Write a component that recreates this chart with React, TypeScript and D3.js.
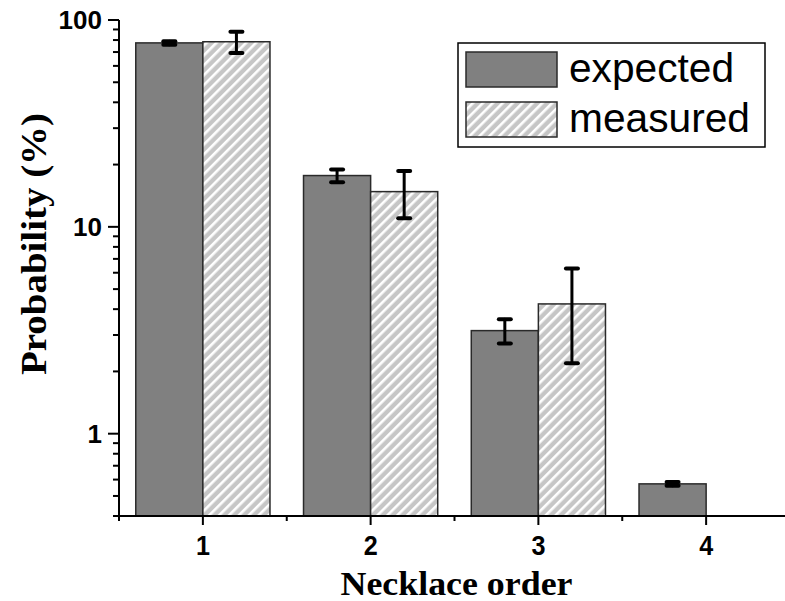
import React from "react";
import * as d3 from "d3";

// Necklace order categories and probabilities (%)
const categories = [1, 2, 3, 4];
const expected = [77.5, 17.7, 3.15, 0.572];
const expectedErr = [1.5, 1.25, 0.42, 0.012];
const measured: (number | null)[] = [78.5, 14.8, 4.24, null];
const measuredErr: (number | null)[] = [9.3, 3.8, 2.05, null];
const yTicks = [1, 10, 100];
const seriesNames = ["expected", "measured"];

const W = 785;
const H = 601;
const left = 119;
const top = 20;
const bottom = 516;
const right = 790;

export default function App() {
  const x = d3.scaleLinear().domain([0.5, 4.5]).range([left, right]);
  const y = d3.scaleLog().domain([0.4, 100]).range([bottom, top]);
  const barW = x(1.4) - x(1);

  const minorY: number[] = [];
  for (const dec of [0.1, 1, 10]) {
    for (let k = 2; k <= 9; k++) {
      const v = dec * k;
      if (v >= 0.4 && v < 100 && !yTicks.includes(v)) minorY.push(v);
    }
  }
  const halfTicks = [0.5, 1.5, 2.5, 3.5, 4.5];

  const errBar = (cx: number, v: number, e: number, key: string) => {
    const y1 = y(v + e);
    const y2 = y(Math.max(v - e, 0.0001));
    const cap = 6;
    return (
      <g key={key} stroke="#000" strokeLinecap="round">
        <line x1={cx} x2={cx} y1={y1} y2={y2} strokeWidth={3} />
        <line x1={cx - cap} x2={cx + cap} y1={y1} y2={y1} strokeWidth={4} />
        <line x1={cx - cap} x2={cx + cap} y1={y2} y2={y2} strokeWidth={4} />
      </g>
    );
  };

  const P = 7;

  return (
    <svg
      width={W}
      height={H}
      style={{ position: "absolute", left: 0, top: 0, background: "#fff" }}
    >
      <defs>
        <pattern
          id="hatch"
          patternUnits="userSpaceOnUse"
          width={P}
          height={P}
          patternTransform="rotate(45)"
        >
          <rect width={P} height={P} fill="#c6c6c6" />
          <rect width={2.6} height={P} fill="#ffffff" />
        </pattern>
      </defs>

      {/* bars */}
      {categories.map((c, i) => (
        <g key={`b${c}`}>
          <rect
            x={x(c) - barW}
            y={y(expected[i])}
            width={barW}
            height={bottom - y(expected[i])}
            fill="#808080"
            stroke="#2a2a2a"
            strokeWidth={1.5}
          />
          {measured[i] != null && (
            <rect
              x={x(c)}
              y={y(measured[i] as number)}
              width={barW}
              height={bottom - y(measured[i] as number)}
              fill="url(#hatch)"
              stroke="#2a2a2a"
              strokeWidth={1.5}
            />
          )}
        </g>
      ))}

      {/* error bars */}
      {categories.map((c, i) => (
        <g key={`e${c}`}>
          {errBar(x(c) - barW / 2, expected[i], expectedErr[i], `ee${c}`)}
          {measured[i] != null &&
            errBar(
              x(c) + barW / 2,
              measured[i] as number,
              measuredErr[i] as number,
              `em${c}`
            )}
        </g>
      ))}

      {/* y axis */}
      <line x1={left} x2={left} y1={top} y2={bottom} stroke="#000" strokeWidth={2} />
      {yTicks.map((t) => (
        <g key={`yt${t}`}>
          <line x1={left - 11} x2={left} y1={y(t)} y2={y(t)} stroke="#000" strokeWidth={2} />
          <text
            x={left - 17}
            y={y(t)}
            dy="0.36em"
            textAnchor="end"
            fontFamily="Liberation Sans, Arial, sans-serif"
            fontWeight="bold"
            fontSize={26}
          >
            {t}
          </text>
        </g>
      ))}
      {minorY.map((t) => (
        <line
          key={`ym${t}`}
          x1={left - 6}
          x2={left}
          y1={y(t)}
          y2={y(t)}
          stroke="#000"
          strokeWidth={2}
        />
      ))}

      {/* x axis */}
      <line x1={left - 1} x2={right} y1={bottom} y2={bottom} stroke="#000" strokeWidth={2} />
      {categories.map((c) => (
        <g key={`xt${c}`}>
          <line x1={x(c)} x2={x(c)} y1={bottom} y2={bottom + 9} stroke="#000" strokeWidth={2} />
          <text
            x={x(c)}
            y={555}
            textAnchor="middle"
            fontFamily="Liberation Sans, Arial, sans-serif"
            fontWeight="bold"
            fontSize={28}
            textLength={14}
            lengthAdjust="spacingAndGlyphs"
          >
            {c}
          </text>
        </g>
      ))}
      {halfTicks.map((t) => (
        <line
          key={`xm${t}`}
          x1={x(t)}
          x2={x(t)}
          y1={bottom}
          y2={bottom + 5}
          stroke="#000"
          strokeWidth={2}
        />
      ))}

      {/* axis titles */}
      <text
        x={(x(1) + x(4)) / 2 + 2}
        y={595}
        textAnchor="middle"
        fontFamily="Liberation Serif, Times New Roman, serif"
        fontWeight="bold"
        fontSize={33}
        textLength={232}
        lengthAdjust="spacingAndGlyphs"
      >
        Necklace order
      </text>
      <text
        transform={`translate(46, 244) rotate(-90)`}
        textAnchor="middle"
        fontFamily="Liberation Serif, Times New Roman, serif"
        fontWeight="bold"
        fontSize={35}
        textLength={262}
        lengthAdjust="spacingAndGlyphs"
      >
        Probability (%)
      </text>

      {/* legend */}
      <g>
        <rect x={458} y={43} width={307} height={104} fill="#fff" stroke="#000" strokeWidth={1.5} />
        <rect x={466} y={52} width={91} height={35} fill="#808080" stroke="#2a2a2a" strokeWidth={1.5} />
        <rect x={466} y={102} width={91} height={35} fill="url(#hatch)" stroke="#2a2a2a" strokeWidth={1.5} />
        {seriesNames.map((s, i) => (
          <text
            key={s}
            x={569}
            y={82 + i * 50}
            fontFamily="Liberation Sans, Arial, sans-serif"
            fontSize={40}
            textLength={i === 0 ? 165 : 181}
            lengthAdjust="spacingAndGlyphs"
          >
            {s}
          </text>
        ))}
      </g>
    </svg>
  );
}
